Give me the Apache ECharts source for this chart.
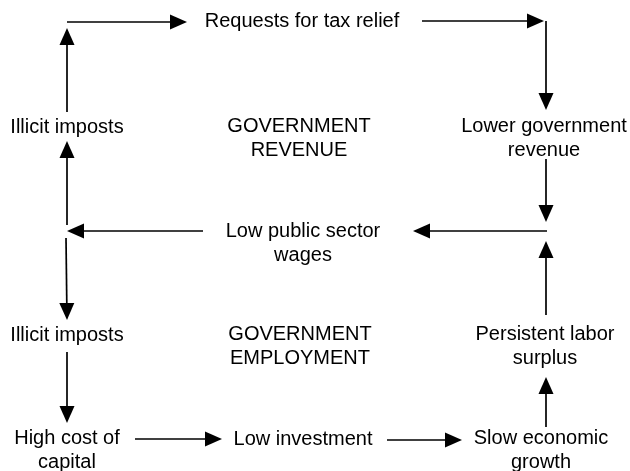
<!DOCTYPE html>
<html>
<head>
<meta charset="utf-8">
<script src="https://cdn.jsdelivr.net/npm/echarts@6/dist/echarts.min.js"></script>
<style>
  html, body { margin: 0; padding: 0; background: #fff; }
  #chart1 { width: 630px; height: 471px; }
</style>
</head>
<body>
<div id="chart1"></div>
<script>
// 文字框
const boxText = [
  'Requests for tax relief',
  'Illicit imposts',
  'GOVERNMENT\nREVENUE',
  'Lower government\nrevenue',
  'Low public sector\nwages',
  'Illicit imposts',
  'GOVERNMENT\nEMPLOYMENT',
  'Persistent labor\nsurplus',
  'High cost of\ncapital',
  'Low investment',
  'Slow economic\ngrowth'
]
const boxX = [302, 67, 299, 544, 303, 67, 300, 545, 67, 303, 541]
const boxY = [21, 127, 138, 138, 243, 335, 346, 346, 450, 439, 450]

// 箭头: 起点 -> 箭尖
const arrowFrom = [
  [67, 112], [67, 22], [422, 21], [546, 21], [546, 159], [547, 231], [203, 231],
  [67, 225], [66, 238], [67, 352], [135, 439], [387, 440], [546, 427], [546, 315]
]
const arrowTo = [
  [67, 28], [187, 22], [544, 21], [546, 110], [546, 222], [413, 231], [67, 231],
  [67, 141], [67, 320], [67, 423], [222, 439], [462, 440], [546, 377], [546, 241]
]

const headW = 15
const headL = 17
let myChart = echarts.init(document.getElementById('chart1'))

// 箭头三角形以端点为中心, 所以往回收半个箭头
let lineData = arrowFrom.map((p, i) => {
  let q = arrowTo[i]
  let dx = q[0] - p[0], dy = q[1] - p[1]
  let len = Math.sqrt(dx * dx + dy * dy)
  let end = [q[0] - dx / len * headL / 2, q[1] - dy / len * headL / 2]
  return { coords: [p, end] }
})

let option = {
  animation: false,
  grid: { left: 0, right: 0, top: 0, bottom: 0 },
  xAxis: { type: 'value', min: 0, max: 630, show: false },
  yAxis: { type: 'value', min: 0, max: 471, inverse: true, show: false },
  series: [
    {
      type: 'lines',
      coordinateSystem: 'cartesian2d',
      silent: true,
      symbol: ['none', 'triangle'],
      symbolSize: [[headW, headL], [headW, headL]],
      lineStyle: { color: '#000', width: 1.7, opacity: 1, curveness: 0 },
      data: lineData
    },
    {
      type: 'custom',
      silent: true,
      data: boxX.map((x, i) => [x, boxY[i]]),
      encode: { x: 0, y: 1 },
      renderItem: function (params, api) {
        let pt = api.coord([api.value(0), api.value(1)])
        return {
          type: 'text',
          x: pt[0],
          y: pt[1],
          style: {
            text: boxText[params.dataIndex],
            fill: '#000',
            fontSize: 20,
            lineHeight: 24,
            fontFamily: '"Liberation Sans", Arial, sans-serif',
            align: 'center',
            verticalAlign: 'middle'
          }
        }
      }
    }
  ]
}

option && myChart.setOption(option)
</script>
</body>
</html>
